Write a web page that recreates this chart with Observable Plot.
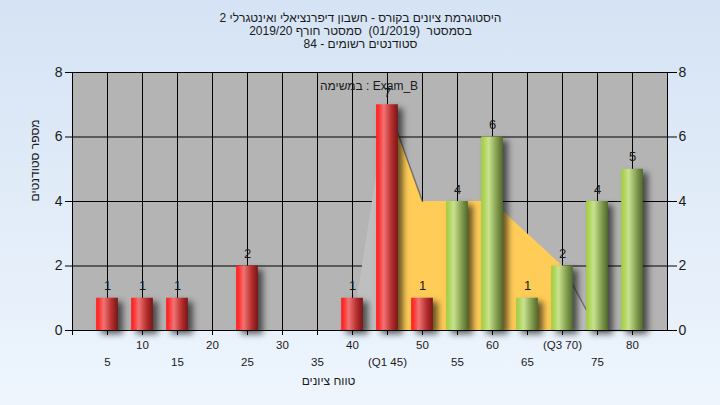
<!DOCTYPE html>
<html><head><meta charset="utf-8">
<script src="https://cdn.jsdelivr.net/npm/d3@7"></script>
<script src="https://cdn.jsdelivr.net/npm/@observablehq/plot@0.6"></script>
<style>
html,body{margin:0;padding:0;}
body{width:720px;height:405px;background:linear-gradient(#d5e3f4,#eef5fd);overflow:hidden;font-family:"Liberation Sans",Arial,sans-serif;}
</style></head><body><div id="chart"></div>
<script>
// ---- data ----
const scores = [5,10,15,20,25,30,35,40,45,50,55,60,65,70,75,80];
const counts = [1,1,1,0,2,0,0,1,7,1,4,6,1,2,4,5];
const curveValues = [0,0,0,0,0,0,0,0,7,4,4,4,3,2,0,0];
const passScore = 55;
const q1 = 45, q3 = 70;
const yTicks = [0,2,4,6,8];
const gridY = [2,4,6];
const xRow1 = [10,20,30,40,50,60,70,80];
const xRow2 = [5,15,25,35,45,55,65,75];
const titleLines = [
  "היסטוגרמת ציונים בקורס - חשבון דיפרנציאלי ואינטגרלי 2",
  "בסמסטר  (01/2019)  סמסטר חורף 2019/20",
  "סטודנטים רשומים - 84"
];
const legendText = "במשימה : Exam_B";
const xTitle = "טווח ציונים";
const yTitle = "מספר סטודנטים";

const bars = scores.map((s,i) => ({score: s, count: counts[i]}));
const curve = scores.map((s,i) => ({score: s, value: curveValues[i]}));
const fmt = v => v === q1 ? `(Q1 ${v})` : v === q3 ? `(Q3 ${v})` : `${v}`;
const half = 1.55;

const font = "'Liberation Sans', Arial, sans-serif";
const chart = Plot.plot({
  width: 720, height: 405,
  marginLeft: 72, marginRight: 53, marginTop: 72, marginBottom: 75,
  style: {background: "transparent", fontFamily: font, color: "#111"},
  x: {domain: [0, 85], axis: null},
  y: {domain: [0, 8], axis: null},
  marks: [
    Plot.frame({fill: "#b4b4b4", stroke: "none"}),
    Plot.ruleX(scores, {x: d => d, y1: 0, y2: 8, stroke: "#000"}),
    Plot.ruleY(gridY, {y: d => d, stroke: "#000"}),
    Plot.areaY(curve, {filter: d => d.score <= q1, x: "score", y: "value", fill: "#bfbfbf"}),
    Plot.areaY(curve, {filter: d => d.score >= q1 && d.score <= q3, x: "score", y: "value", fill: "#ffcc58"}),
    Plot.areaY(curve, {filter: d => d.score >= q3, x: "score", y: "value", fill: "#bdbdbd"}),
    Plot.lineY(curve, {filter: d => d.score >= q1 && d.score <= q1 + 5, x: "score", y: "value", stroke: "#444", strokeOpacity: 0.6}),
    Plot.lineY(curve, {filter: d => d.score >= q3, x: "score", y: "value", stroke: "#444", strokeOpacity: 0.6}),
    Plot.rectY(bars, {filter: d => d.count > 0 && d.score < passScore, x1: d => d.score - half, x2: d => d.score + half, y1: 0, y2: "count", fill: "url(#gRed)"}),
    Plot.rectY(bars, {filter: d => d.count > 0 && d.score >= passScore, x1: d => d.score - half, x2: d => d.score + half, y1: 0, y2: "count", fill: "url(#gGreen)"}),
    Plot.text(bars, {filter: d => d.count > 0, x: "score", y: "count", text: "count", dy: -12, lineAnchor: "middle", fontSize: 13, fill: "#1a1a1a"}),
    Plot.frame({stroke: "#000"}),
    Plot.axisY({anchor: "left", ticks: yTicks, tickSize: 7, tickPadding: 3, fontSize: 14, stroke: "#000", fill: "#1a1a1a", label: null}),
    Plot.axisY({anchor: "right", ticks: yTicks, tickSize: 9, tickPadding: 2, fontSize: 14, stroke: "#000", fill: "#1a1a1a", label: null}),
    Plot.axisX({ticks: [0], tickSize: 5, tickFormat: () => "", stroke: "#000", label: null}),
    Plot.axisX({ticks: xRow1, tickSize: 5, tickPadding: 5, tickFormat: fmt, fontSize: 11.5, stroke: "#000", fill: "#1a1a1a", label: null}),
    Plot.axisX({ticks: xRow2, tickSize: 5, tickPadding: 22, tickFormat: fmt, fontSize: 11.5, stroke: "#000", fill: "#1a1a1a", label: null}),
    Plot.text([titleLines.join("\n")], {frameAnchor: "top", dx: -9.5, dy: -42, lineAnchor: "middle", lineHeight: 1.08, fontSize: 12, fill: "#1a1a1a"}),
    Plot.text([legendText], {frameAnchor: "top", dx: -1, dy: 14, lineAnchor: "middle", fontSize: 12, fill: "#1a1a1a"}),
    Plot.text([xTitle], {frameAnchor: "bottom", dx: -41.5, dy: 51, lineAnchor: "middle", fontSize: 12, fill: "#1a1a1a"}),
    Plot.text([yTitle], {frameAnchor: "left", dx: -37, rotate: -90, lineAnchor: "middle", fontSize: 12, fill: "#1a1a1a"})
  ]
});

const svg = d3.select(chart);
const defs = svg.insert("defs", ":first-child");
function grad(id, stops) {
  const g = defs.append("linearGradient").attr("id", id).attr("x1", "0").attr("x2", "1").attr("y1", "0").attr("y2", "0");
  stops.forEach(([o, c]) => g.append("stop").attr("offset", o).attr("stop-color", c));
}
grad("gRed", [[0, "#ff1c1c"], [0.12, "#ff3030"], [0.35, "#f07474"], [0.7, "#b83030"], [1, "#7a1414"]]);
grad("gGreen", [[0, "#a2cc44"], [0.12, "#acd454"], [0.35, "#c8e290"], [0.7, "#85a050"], [1, "#506a2c"]]);
svg.selectAll('g[fill="url(#gRed)"], g[fill="url(#gGreen)"]').style("filter", "drop-shadow(5px 4px 3px rgba(0,0,0,0.6))");
document.getElementById("chart").append(chart);
</script></body></html>
